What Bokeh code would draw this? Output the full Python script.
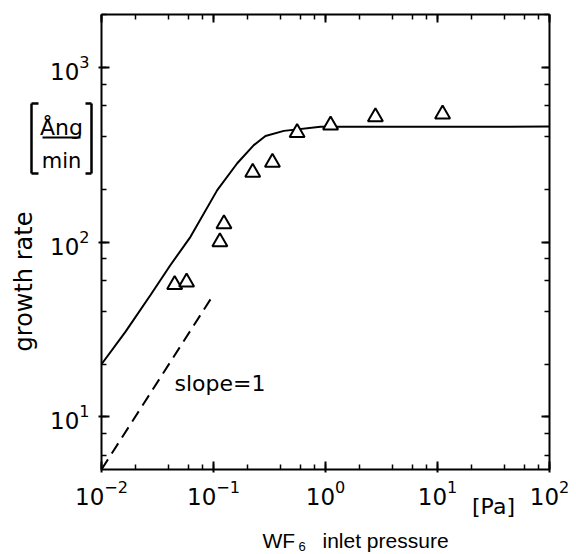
import numpy as np
from bokeh.plotting import figure
from bokeh.models import LogAxis, LogTicker, Label, Arrow, CustomJSTickFormatter
from bokeh.embed import file_html
from bokeh.resources import INLINE

# ---- data ----
pressure_pa = [0.045, 0.0575, 0.114, 0.124, 0.224, 0.336, 0.558, 1.11, 2.79, 11.1]
growth_rate = [57, 59, 100, 127, 250, 285, 422, 466, 520, 539]

model_pressure = [0.01, 0.0164, 0.0274, 0.0413, 0.0623, 0.108, 0.163, 0.229, 0.291, 0.425, 0.902, 100]
model_rate = [20, 30.7, 49.8, 73.9, 107, 198, 282, 358, 404, 432, 456, 457]

slope_pressure = [0.01, 0.094]
slope_rate = [5, 47]

x_lo, x_hi = 0.01, 100
y_lo, y_hi = 5, 2000

# ---- layout (pixel coords of the chart box in the picture) ----
W, H = 576, 554
OFF = 0
FL, FR, FT, FB = 101, 549, 14, 469


def dx(px):
    return 10 ** (np.log10(x_lo) + (px - FL) * np.log10(x_hi / x_lo) / (FR - FL))


def dy(py):
    return 10 ** (np.log10(y_lo) + (FB - py) * np.log10(y_hi / y_lo) / (FB - FT))


# the frame covers the whole canvas; the chart box is drawn by four fixed axes
p = figure(width=W, height=H, x_axis_type="log", y_axis_type="log",
           x_axis_location=None, y_axis_location=None,
           x_range=(dx(OFF), dx(OFF + W)), y_range=(dy(OFF + H), dy(OFF)),
           output_backend="svg", toolbar_location=None, min_border=0)
p.grid.visible = False
p.outline_line_color = None
p.background_fill_color = "white"
p.border_fill_color = "white"


def make_axis(loc, bounds, labels=True):
    ax = LogAxis(ticker=LogTicker(), fixed_location=loc, bounds=bounds)
    if not labels:
        ax.formatter = CustomJSTickFormatter(code="return ''")
    ax.axis_line_width = 2
    ax.axis_line_color = "black"
    ax.major_tick_in = 8
    ax.major_tick_out = 3 if labels else 0
    ax.minor_tick_in = 5
    ax.minor_tick_out = 0
    ax.major_tick_line_width = 2
    ax.minor_tick_line_width = 1.5
    ax.major_tick_line_color = "black"
    ax.minor_tick_line_color = "black"
    ax.major_label_text_font = "DejaVu Sans"
    ax.major_label_text_font_size = "23px"
    ax.major_label_text_color = "black"
    return ax


bottom = make_axis(y_lo, (x_lo, x_hi))
bottom.major_label_standoff = 7
left = make_axis(x_lo, (y_lo, y_hi))
left.major_label_standoff = 9
top = make_axis(y_hi, (x_lo, x_hi), labels=False)
right = make_axis(x_hi, (y_lo, y_hi), labels=False)
p.add_layout(bottom, "below")
p.add_layout(left, "left")
p.add_layout(top, "above")
p.add_layout(right, "right")

# ---- marks ----
p.line(model_pressure, model_rate, line_color="black", line_width=2)
p.line(slope_pressure, slope_rate, line_color="black", line_width=2, line_dash="12 7")
p.scatter(pressure_pa, growth_rate, marker="triangle", size=15, line_color="black",
          line_width=2, fill_color="white")


# ---- texts ----
def lab(text, px, py, size, font="DejaVu Sans", align="left", baseline="alphabetic", angle=0):
    p.add_layout(Label(x=dx(px), y=dy(py), text=text, text_font=font,
                       text_font_size=f"{size}px", text_color="black",
                       text_align=align, text_baseline=baseline,
                       angle=angle, angle_units="deg"))


def seg(x0, y0, x1, y1, w=2.5):
    p.add_layout(Arrow(x_start=dx(x0), y_start=dy(y0), x_end=dx(x1), y_end=dy(y1),
                       end=None, line_color="black", line_width=w))


lab("growth rate", 23, 281, 24, align="center", baseline="middle", angle=90)
lab("Ång", 61, 127, 22, align="center")
lab("min", 61, 160, 21, align="center")
seg(42, 137, 80, 137, 2)
seg(38, 103, 31, 103)
seg(31, 103, 31, 173)
seg(31, 173, 38, 173)
seg(85, 103, 91, 103)
seg(91, 103, 91, 173)
seg(91, 173, 85, 173)

lab("slope=1", 174, 383, 22)
lab("[Pa]", 493, 506, 22, align="center")

lab("WF", 262, 540, 21, font="Liberation Sans")
lab("6", 298, 546, 13, font="Liberation Sans")
lab("inlet pressure", 322, 540, 21, font="Liberation Sans")

open("out.html", "w").write(file_html(p, INLINE))
